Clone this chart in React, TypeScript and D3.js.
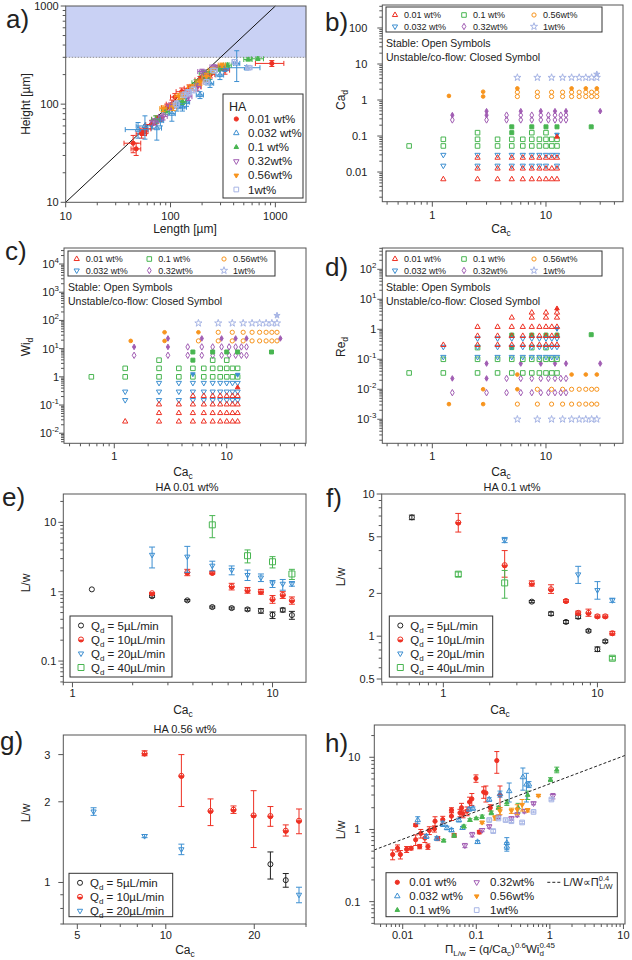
import * as d3 from "d3";
import React from "react";

const FONT = "'Liberation Sans', Arial, Helvetica, sans-serif";
const RED = "#ee3124";
const BLUE = "#3d8fd1";
const GREEN = "#48b551";
const PURPLE = "#a15db3";
const ORANGE = "#f7941d";
const LAV = "#a7b5e5";
const BLACK = "#222222";
const AXIS = "#555555";

const HA_LABELS = ["0.01 wt%", "0.032 wt%", "0.1 wt%", "0.32wt%", "0.56wt%", "1wt%"];
const FLOWS = ["5", "10", "20", "40"];

// a) Height vs Length: [L, H, dL, dH]
const aHA001 = [
  [44, 40, 8, 8], [47, 35, 5, 5], [53, 50, 6, 5], [56, 53, 5, 5], [58, 56, 7, 6],
  [66, 62, 8, 6], [74, 70, 8, 6], [80, 72, 6, 5], [92, 92, 10, 8], [103, 100, 12, 10],
  [110, 118, 10, 10], [128, 134, 15, 12], [150, 145, 15, 12], [178, 150, 18, 14],
  [191, 176, 20, 15], [215, 185, 22, 15], [240, 200, 25, 15], [300, 235, 30, 15],
  [331, 222, 35, 20], [925, 260, 280, 18],
];
const aHA0032 = [
  [49, 55, 12, 10], [57, 60, 10, 16], [74, 57, 8, 14], [80, 68, 6, 8], [103, 80, 8, 13],
  [115, 95, 8, 10], [123, 100, 10, 8], [130, 93, 12, 8], [142, 105, 10, 10],
  [191, 124, 15, 10], [238, 163, 20, 15], [296, 198, 25, 20], [330, 230, 30, 15],
  [428, 260, 30, 90], [533, 235, 180, 12],
];
const aHA01 = [
  [72, 70, 6, 6], [90, 85, 8, 6], [130, 107, 10, 8], [175, 165, 15, 12], [206, 206, 18, 15],
  [220, 185, 20, 12], [240, 215, 20, 12], [286, 232, 25, 15], [350, 250, 30, 12],
  [550, 285, 50, 10], [680, 290, 90, 12],
];
const aHA032 = [
  [70, 66, 6, 5], [85, 75, 8, 6], [100, 95, 8, 8], [148, 119, 12, 10], [178, 151, 15, 12],
  [200, 215, 18, 12], [220, 192, 20, 14], [260, 240, 22, 12],
];
const aHA056 = [
  [85, 90, 6, 6], [106, 94, 8, 8], [120, 120, 10, 8], [130, 123, 12, 10], [159, 149, 14, 10],
  [191, 168, 16, 12], [220, 192, 20, 14], [253, 222, 25, 15], [310, 250, 25, 12],
];
const aHA1 = [
  [114, 100, 8, 8], [136, 125, 10, 8], [148, 131, 10, 10], [165, 140, 12, 10],
  [220, 168, 15, 10], [260, 220, 20, 12], [410, 270, 25, 15], [560, 235, 40, 10],
];
const aDiagX = [10, 1000];
const aDiagY = [10, 1000];
const aBand = [300, 1000];

// b) Ca_d vs Ca_c: [Ca_c, open values, closed values]
const bRed = [
  [1.25, [0.0063]], [2.5, [0.0063, 0.0125, 0.025]], [3.75, [0.0063, 0.0125, 0.025]],
  [5, [0.0063, 0.0125, 0.025]], [6.25, [0.0063, 0.0125, 0.025]], [7.5, [0.0063, 0.0125, 0.025]],
  [8.75, [0.0063, 0.0125, 0.025]], [10, [0.0063, 0.0125, 0.025]], [11.25, [0.0063, 0.0125, 0.025]],
  [12.5, [0.0063, 0.0125, 0.025], [0.095]],
];
const bBlue = [
  [1.25, [0.015, 0.03]], [2.5, [0.015, 0.03]], [3.75, [0.015, 0.03]], [5, [0.015, 0.03]],
  [6.25, [0.015, 0.03]], [7.5, [0.015, 0.03]], [8.75, [0.015, 0.03]], [10, [0.015, 0.03]],
  [11.25, [0.03]], [12.5, [0.015, 0.03], [0.11]],
];
const bGreen = [
  [0.625, [0.053]], [1.25, [0.053, 0.081]], [2.5, [0.053, 0.081, 0.124]], [3.75, [0.053, 0.081]],
  [5, [0.053, 0.081], [0.124, 0.18]], [6.25, [0.053, 0.081]], [7.5, [0.053, 0.081, 0.124], [0.18]],
  [8.75, [0.053, 0.081]], [10, [0.053, 0.081, 0.124], [0.18]], [11.25, [0.053, 0.081]],
  [12.5, [0.053, 0.081], [0.18]], [25, [], [0.18]],
];
const bPurple = [
  [1.5, [0.28], [0.38]], [3, [0.28], [0.38, 0.49]], [4.5, [0.28, 0.38]], [6, [0.28, 0.38], [0.49]],
  [7.5, [0.28, 0.38]], [9, [0.28, 0.38], [0.49]], [10.5, [0.28, 0.38]], [12, [0.28, 0.38], [0.49]],
  [13.5, [0.28, 0.38]], [15, [0.28, 0.38], [0.49]], [30, [], [0.49]],
];
const bOrange = [
  [1.4, [], [1.3]], [2.8, [], [1.25, 1.7]], [5.6, [1.25, 1.65], [2.1]], [8.4, [1.25, 1.65]],
  [11.2, [1.25, 1.65]], [14, [1.25, 1.65]], [16.8, [1.25, 1.65], [2.1]], [19.6, [1.25, 1.65]],
  [22.4, [1.25, 1.65], [2.1]], [25.2, [1.25, 1.65]], [28, [1.25, 1.65], [2.1]],
];
const bStar = [
  [5.6, [4.2]], [8.4, [4.2]], [11.2, [4.2]], [14, [4.2]], [16.8, [4.2]], [19.6, [4.2]],
  [22.4, [4.2]], [25.2, [4.2]], [28, [4.2], [5.2]],
];

// c) Wi_d vs Ca_c
const cRed = [
  [1.25, [0.026]], [2.5, [0.026, 0.052, 0.105]], [3.75, [0.026, 0.052, 0.105]],
  [5, [0.026, 0.052, 0.105, 0.21]], [6.25, [0.026, 0.052, 0.105, 0.21]], [7.5, [0.026, 0.052, 0.105, 0.21]],
  [8.75, [0.026, 0.052, 0.105, 0.21]], [10, [0.026, 0.052, 0.105, 0.21]], [11.25, [0.026, 0.052, 0.105, 0.21]],
  [12.5, [0.026, 0.052, 0.105, 0.21], [0.42]],
];
const cBlue = [
  [1.25, [0.15, 0.3]], [2.5, [0.15, 0.3, 0.61]], [3.75, [0.15, 0.3, 0.61]], [5, [0.15, 0.3, 0.61], [1.25]],
  [6.25, [0.15, 0.3, 0.61]], [7.5, [0.15, 0.3, 0.61]], [8.75, [0.15, 0.3, 0.61]], [10, [0.15, 0.3, 0.61]],
  [11.25, [0.15, 0.3, 0.61]], [12.5, [0.15, 0.3, 0.61], [1.2]],
];
const cGreen = [
  [0.625, [1.0]], [1.25, [1.0, 2.0]], [2.5, [1.0, 2.0, 3.9]], [3.75, [1.0, 2.0]],
  [5, [1.0, 2.0], [3.9, 7.6]], [6.25, [1.0, 2.0]], [7.5, [1.0, 2.0, 3.9], [7.6]], [8.75, [1.0, 2.0]],
  [10, [1.0, 2.0, 3.9], [7.6]], [11.25, [1.0, 2.0]], [12.5, [1.0, 2.0], [7.6]], [25, [], [7.6]],
];
const cPurple = [
  [1.5, [5.8], [11.5]], [3, [5.8], [11.5, 23]], [4.5, [5.8, 11.5]], [6, [5.8, 11.5], [23]],
  [7.5, [5.8, 11.5]], [9, [5.8, 11.5], [23]], [10.5, [5.8, 11.5]], [12, [5.8, 11.5], [23]],
  [13.5, [5.8, 11.5]], [15, [5.8, 11.5], [23]], [30, [], [23]],
];
const cOrange = [
  [1.4, [], [18.8]], [2.8, [], [18.8, 38]], [5.6, [18.8], [38]], [8.4, [18.8, 38]],
  [11.2, [18.8, 38]], [14, [18.8, 38]], [16.8, [18.8, 38]], [19.6, [18.8, 38]],
  [22.4, [18.8, 38]], [25.2, [18.8, 38]], [28, [18.8, 38]],
];
const cStar = [
  [5.6, [80]], [8.4, [80]], [11.2, [80]], [14, [80]], [16.8, [80]], [19.6, [80]],
  [22.4, [80]], [25.2, [80]], [28, [80], [150]],
];

// d) Re_d vs Ca_c
const dRed = [
  [1.25, [0.3]], [2.5, [0.3, 0.6, 1.2]], [3.75, [0.3, 0.6, 1.2]], [5, [0.3, 0.6, 1.2, 2.45]],
  [6.25, [0.3, 0.6, 1.2]], [7.5, [0.3, 0.6, 1.2, 2.45, 3.6]], [8.75, [0.3, 0.6, 1.2]],
  [10, [0.3, 0.6, 1.2, 2.45, 3.6]], [11.25, [0.3, 0.6, 1.2]], [12.5, [0.3, 0.6, 1.2, 2.45, 3.6], [4.9]],
];
const dBlue = [
  [1.25, [0.12, 0.26]], [2.5, [0.12, 0.26, 0.5]], [3.75, [0.12, 0.26, 0.5]], [5, [0.12, 0.26, 0.5]],
  [6.25, [0.12, 0.26, 0.5]], [7.5, [0.12, 0.26, 0.5]], [8.75, [0.12, 0.26, 0.5]], [10, [0.12, 0.26, 0.5]],
  [11.25, [0.12, 0.26, 0.5]], [12.5, [0.12, 0.26, 0.5], [1.05]],
];
const dGreen = [
  [0.625, [0.035]], [1.25, [0.035, 0.1]], [2.5, [0.035, 0.1, 0.245]], [3.75, [0.035, 0.1]],
  [5, [0.035, 0.1], [0.245, 0.64]], [6.25, [0.035, 0.1]], [7.5, [0.035, 0.1, 0.245], [0.64]],
  [8.75, [0.035, 0.1]], [10, [0.035, 0.1, 0.245], [0.64]], [11.25, [0.035, 0.1]],
  [12.5, [0.035, 0.1], [0.64]], [25, [], [0.66]],
];
const dPurple = [
  [1.5, [0.0077], [0.023]], [3, [0.0077], [0.023, 0.072]], [4.5, [0.0077, 0.023]],
  [6, [0.0077, 0.023], [0.072]], [7.5, [0.0077, 0.023]], [9, [0.0077, 0.023], [0.072]],
  [10.5, [0.0077, 0.023]], [12, [0.0077, 0.023], [0.072]], [13.5, [0.0077, 0.023]],
  [15, [0.0077, 0.023], [0.072]], [30, [], [0.072]],
];
const dOrange = [
  [1.4, [], [0.0032]], [2.8, [], [0.0032, 0.01]], [5.6, [0.0032], [0.01, 0.031]], [8.4, [0.0032, 0.01]],
  [11.2, [0.0032, 0.01]], [14, [0.0032, 0.01]], [16.8, [0.0032, 0.01], [0.031]], [19.6, [0.0032, 0.01]],
  [22.4, [0.0032, 0.01], [0.031]], [25.2, [0.0032, 0.01]], [28, [0.0032, 0.01], [0.031]],
];
const dStar = [
  [5.6, [0.001]], [8.4, [0.001]], [11.2, [0.001]], [14, [0.001]], [16.8, [0.001]], [19.6, [0.001]],
  [22.4, [0.001]], [25.2, [0.001]], [28, [0.001]],
];

// e-g) L/w vs Ca_c: [Ca_c, L/w, low, high]
const eQ5 = [
  [1.25, 1.08, 1.08, 1.08], [2.5, 0.86, 0.83, 0.89], [3.75, 0.75, 0.73, 0.77], [5, 0.6, 0.58, 0.62],
  [6.25, 0.58, 0.56, 0.6], [7.5, 0.556, 0.53, 0.58], [8.75, 0.53, 0.49, 0.57], [10, 0.465, 0.41, 0.51],
  [11.25, 0.545, 0.51, 0.58], [12.5, 0.46, 0.4, 0.52],
];
const eQ10 = [
  [2.5, 0.95, 0.93, 0.97], [3.75, 1.9, 1.7, 2.1], [5, 1.87, 1.8, 1.95], [6.25, 1.19, 1.06, 1.32],
  [7.5, 1.05, 0.95, 1.15], [8.75, 1.0, 0.92, 1.08], [10, 0.78, 0.68, 0.88], [11.25, 0.9, 0.8, 1.0],
  [12.5, 0.75, 0.66, 0.84],
];
const eQ20 = [
  [2.5, 3.4, 2.2, 4.4], [3.75, 3.2, 1.9, 4.5], [5, 2.37, 2.0, 2.75], [6.25, 2.06, 1.75, 2.35],
  [7.5, 1.74, 1.45, 2.05], [8.75, 1.6, 1.4, 1.8], [10, 1.32, 1.15, 1.45], [11.25, 1.3, 1.05, 1.5],
  [12.5, 1.3, 1.2, 1.4],
];
const eQ40 = [[5, 9.2, 6, 12.5], [7.5, 3.3, 2.6, 4.0], [10, 2.7, 2.2, 3.2], [12.5, 1.8, 1.5, 2.1]];

const fQ5 = [
  [0.625, 6.85, 6.6, 7.1], [3.75, 1.75, 1.72, 1.78], [5, 1.44, 1.4, 1.48], [6.25, 1.26, 1.23, 1.29],
  [7.5, 1.37, 1.33, 1.41], [8.75, 1.09, 1.07, 1.11], [10, 0.81, 0.78, 0.84], [11.25, 0.92, 0.9, 0.94],
];
const fQ10 = [
  [1.25, 6.3, 5.4, 7.3], [2.5, 3.16, 2.6, 4.0], [3.75, 2.35, 2.25, 2.45], [5, 2.14, 2.0, 2.3],
  [6.25, 1.77, 1.73, 1.81], [7.5, 1.46, 1.42, 1.5], [8.75, 1.46, 1.38, 1.55], [10, 1.38, 1.35, 1.41],
  [11.25, 1.38, 1.35, 1.41], [12.5, 1.05, 1.02, 1.08],
];
const fQ20 = [[2.5, 4.74, 4.55, 4.95], [7.5, 2.72, 2.35, 3.1], [10, 2.11, 1.82, 2.42], [12.5, 1.79, 1.73, 1.85]];
const fQ40 = [[1.25, 2.73, 2.63, 2.83], [2.5, 2.37, 1.85, 2.9], [12.5, 0.7, 0.68, 0.72]];

const gQ5 = [[22.7, 1.17, 1.03, 1.3], [25.6, 1.02, 0.96, 1.08]];
const gQ10 = [
  [8.47, 3.03, 2.97, 3.1], [11.3, 2.5, 1.92, 3.0], [14.2, 1.85, 1.63, 2.05], [17.0, 1.87, 1.81, 1.93],
  [19.9, 1.78, 1.35, 2.2], [22.7, 1.77, 1.62, 1.92], [25.6, 1.56, 1.49, 1.64], [28.4, 1.7, 1.52, 1.88],
];
const gQ20 = [[5.68, 1.84, 1.78, 1.9], [8.47, 1.49, 1.47, 1.51], [11.3, 1.33, 1.27, 1.39], [28.4, 0.9, 0.84, 0.96]];

// h) L/w vs Pi_L/w: [Pi, L/w, err]
const hHA001 = [
  [0.0073, 0.45, 0.07], [0.0085, 0.55, 0.06], [0.0093, 0.45, 0.06], [0.0113, 0.53, 0.05],
  [0.013, 0.55, 0.03], [0.015, 0.72, 0.12], [0.015, 1.15, 0.05], [0.0176, 0.88, 0.12],
  [0.017, 0.58, 0.04], [0.02, 0.76, 0.1], [0.022, 0.58, 0.05], [0.023, 0.97, 0.12],
  [0.0275, 1.3, 0.2], [0.027, 1.02, 0.1], [0.03, 0.75, 0.05], [0.035, 1.37, 0.15],
  [0.046, 1.53, 0.2], [0.046, 1.85, 0.15], [0.05, 0.83, 0.05], [0.06, 1.7, 0.2],
  [0.063, 2.0, 0.3], [0.066, 1.65, 0.2], [0.075, 1.8, 0.25], [0.081, 2.4, 0.4],
  [0.087, 2.65, 0.5], [0.099, 5.1, 0.6], [0.11, 0.92, 0.05], [0.126, 3.3, 0.6],
  [0.135, 3.2, 0.8], [0.155, 2.0, 0.2], [0.19, 9.0, 3.0], [0.21, 3.0, 1.0],
];
const hHA0032 = [
  [0.016, 1.35, 0.15], [0.021, 0.8, 0.05], [0.029, 0.75, 0.04], [0.035, 1.2, 0.1],
  [0.04, 1.05, 0.06], [0.046, 0.98, 0.05], [0.058, 1.35, 0.08], [0.065, 1.05, 0.05],
  [0.08, 1.9, 0.1], [0.09, 1.95, 0.1], [0.104, 0.67, 0.03], [0.15, 2.6, 0.15],
  [0.21, 3.1, 0.3], [0.26, 0.65, 0.12], [0.26, 0.58, 0.08], [0.28, 3.4, 1.0],
  [0.43, 5.3, 1.8], [0.48, 4.2, 1.8], [0.52, 4.2, 0.4],
];
const hHA01 = [
  [0.036, 0.7, 0.03], [0.05, 0.82, 0.04], [0.068, 1.1, 0.05], [0.082, 1.35, 0.06],
  [0.1, 1.42, 0.05], [0.12, 1.5, 0.08], [0.16, 1.7, 0.1], [0.2, 2.0, 0.1], [0.26, 2.35, 0.2],
  [0.37, 2.0, 0.3], [0.5, 3.0, 0.4], [1.02, 4.9, 0.3], [1.24, 6.7, 0.6],
];
const hHA032 = [
  [0.07, 0.6, 0.04], [0.088, 0.85, 0.06], [0.12, 0.98, 0.05], [0.15, 1.1, 0.06], [0.2, 1.5, 0.08],
  [0.3, 1.42, 0.08], [0.36, 1.6, 0.1], [0.45, 1.8, 0.1], [0.6, 2.3, 0.1], [1.1, 2.9, 0.25],
];
const hHA056 = [
  [0.12, 1.25, 0.05], [0.18, 1.45, 0.1], [0.21, 1.8, 0.2], [0.3, 1.82, 0.15],
  [0.36, 1.9, 0.3], [0.42, 2.2, 0.4], [0.5, 1.85, 0.1], [0.7, 2.95, 0.1],
];
const hHA1 = [
  [0.15, 1.35, 0.05], [0.17, 0.95, 0.05], [0.2, 1.42, 0.05], [0.25, 1.35, 0.05],
  [0.3, 1.3, 0.05], [0.42, 1.25, 0.05], [0.6, 1.75, 0.05], [1.05, 2.6, 0.1],
];
const hFitX = [0.0041, 10.5];
const hFitY = [0.52, 10.6];

type Scale = d3.ScaleLogarithmic<number, number>;
type Style = { color: string; shape: string; size: number; filled?: boolean };

const scatterStyles: Style[] = [
  { color: RED, shape: "circle", size: 14, filled: true },
  { color: BLUE, shape: "tri", size: 13 },
  { color: GREEN, shape: "tri", size: 9, filled: true },
  { color: PURPLE, shape: "down", size: 13 },
  { color: ORANGE, shape: "down", size: 9, filled: true },
  { color: LAV, shape: "square", size: 22 },
];
const gridStyles: Style[] = [
  { color: RED, shape: "tri", size: 12 },
  { color: BLUE, shape: "down", size: 12 },
  { color: GREEN, shape: "square", size: 21 },
  { color: PURPLE, shape: "diamond", size: 12 },
  { color: ORANGE, shape: "circle", size: 14 },
  { color: LAV, shape: "star", size: 16 },
];
const flowStyles: Style[] = [
  { color: BLACK, shape: "circle", size: 20 },
  { color: RED, shape: "half", size: 20 },
  { color: BLUE, shape: "down", size: 12 },
  { color: GREEN, shape: "square", size: 36 },
];

const SHAPES: Record<string, d3.SymbolType> = {
  circle: d3.symbolCircle,
  square: d3.symbolSquare,
  tri: d3.symbolTriangle,
  down: d3.symbolTriangle,
  diamond: d3.symbolDiamond,
  star: d3.symbolStar,
};

function Mark({ cx, cy, st, filled, size }: { cx: number; cy: number; st: Style; filled?: boolean; size?: number }) {
  const s = size ?? st.size;
  const fill = filled ?? st.filled;
  if (st.shape === "half") {
    const r = Math.sqrt(s / Math.PI);
    return (
      <g transform={`translate(${cx},${cy})`}>
        <path d={`M${-r},0A${r},${r} 0 0 0 ${r},0Z`} fill={st.color} />
        <circle r={r} fill="none" stroke={st.color} strokeWidth={1} />
      </g>
    );
  }
  const d = d3.symbol(SHAPES[st.shape], s)() ?? "";
  return (
    <path
      d={d}
      transform={`translate(${cx},${cy})${st.shape === "down" ? " rotate(180)" : ""}`}
      fill={fill ? st.color : "none"}
      stroke={st.color}
      strokeWidth={1}
    />
  );
}

function minorTicks(d: number[], majors: number[]) {
  const out: number[] = [];
  for (let e = Math.floor(Math.log10(d[0])); e <= Math.ceil(Math.log10(d[1])); e++) {
    for (let k = 1; k < 10; k++) {
      const v = k * Math.pow(10, e);
      if (v >= d[0] * 0.999 && v <= d[1] * 1.001 && !majors.some((m) => Math.abs(m - v) / v < 1e-6)) out.push(v);
    }
  }
  return out;
}

function Lbl({ s }: { s: string }) {
  const [b, e] = s.split("^");
  return (
    <>
      {b}
      {e && (
        <tspan dy={-5} fontSize="0.72em">
          {e}
        </tspan>
      )}
    </>
  );
}

interface PanelProps {
  box: number[];
  xd: number[];
  yd: number[];
  xt: [number, string][];
  yt: [number, string][];
  xGap?: number;
  yGap?: number;
  children: (x: Scale, y: Scale) => React.ReactNode;
}

function Panel({ box, xd, yd, xt, yt, xGap = 17, yGap = 7, children }: PanelProps) {
  const [l, t, r, b] = box;
  const x = d3.scaleLog().domain(xd).range([l, r]);
  const y = d3.scaleLog().domain(yd).range([b, t]);
  const xm = minorTicks(xd, xt.map((d) => d[0]));
  const ym = minorTicks(yd, yt.map((d) => d[0]));
  return (
    <g>
      {children(x, y)}
      <rect x={l} y={t} width={r - l} height={b - t} fill="none" stroke={AXIS} strokeWidth={1} />
      {xm.map((v, i) => (
        <line key={`xm${i}`} x1={x(v)} x2={x(v)} y1={b} y2={b + 3} stroke={AXIS} />
      ))}
      {ym.map((v, i) => (
        <line key={`ym${i}`} x1={l - 3} x2={l} y1={y(v)} y2={y(v)} stroke={AXIS} />
      ))}
      {xt.map(([v, s], i) => (
        <g key={`xt${i}`}>
          <line x1={x(v)} x2={x(v)} y1={b} y2={b + 5} stroke={AXIS} />
          <text x={x(v)} y={b + xGap} textAnchor="middle" fontSize={11}>
            <Lbl s={s} />
          </text>
        </g>
      ))}
      {yt.map(([v, s], i) => (
        <g key={`yt${i}`}>
          <line x1={l - 5} x2={l} y1={y(v)} y2={y(v)} stroke={AXIS} />
          <text x={l - yGap} y={y(v) + 4} textAnchor="end" fontSize={11}>
            <Lbl s={s} />
          </text>
        </g>
      ))}
    </g>
  );
}

function GridSeries({ rows, x, y, st }: { rows: any[]; x: Scale; y: Scale; st: Style }) {
  return (
    <g>
      {rows.map(([c, open, closed = []]: [number, number[], number[]], i: number) => (
        <g key={i}>
          {open.map((v, j) => (
            <Mark key={`o${j}`} cx={x(c)} cy={y(v)} st={st} />
          ))}
          {closed.map((v, j) => (
            <Mark key={`c${j}`} cx={x(c)} cy={y(v)} st={st} filled size={st.size * 0.75} />
          ))}
        </g>
      ))}
    </g>
  );
}

function VErr({ pts, x, y, st, cap = 3 }: { pts: number[][]; x: Scale; y: Scale; st: Style; cap?: number }) {
  return (
    <g stroke={st.color} strokeWidth={1}>
      {pts.map(([c, v, lo, hi], i) => {
        const px = x(c);
        return (
          <g key={i}>
            {hi > lo && (
              <>
                <line x1={px} x2={px} y1={y(lo)} y2={y(hi)} />
                <line x1={px - cap} x2={px + cap} y1={y(lo)} y2={y(lo)} />
                <line x1={px - cap} x2={px + cap} y1={y(hi)} y2={y(hi)} />
              </>
            )}
            <Mark cx={px} cy={y(v)} st={st} />
          </g>
        );
      })}
    </g>
  );
}

function XYErr({ pts, x, y, st }: { pts: number[][]; x: Scale; y: Scale; st: Style }) {
  const cap = 2.5;
  return (
    <g stroke={st.color} strokeWidth={1}>
      {pts.map(([L, H, dL, dH], i) => {
        const px = x(L);
        const py = y(H);
        const x0 = x(Math.max(L - dL, 1)), x1 = x(L + dL);
        const y0 = y(Math.max(H - dH, 1)), y1 = y(H + dH);
        return (
          <g key={i}>
            <line x1={x0} x2={x1} y1={py} y2={py} />
            <line x1={x0} x2={x0} y1={py - cap} y2={py + cap} />
            <line x1={x1} x2={x1} y1={py - cap} y2={py + cap} />
            <line x1={px} x2={px} y1={y0} y2={y1} />
            <line x1={px - cap} x2={px + cap} y1={y0} y2={y0} />
            <line x1={px - cap} x2={px + cap} y1={y1} y2={y1} />
            <Mark cx={px} cy={py} st={st} />
          </g>
        );
      })}
    </g>
  );
}

function GridLegend({ x0, y0, w, cols }: { x0: number; y0: number; w: number; cols: number[] }) {
  return (
    <g fontSize={9}>
      <rect x={x0} y={y0} width={w} height={25} fill="#fff" stroke="#333" />
      {HA_LABELS.map((s, i) => {
        const cx = x0 + cols[Math.floor(i / 2)];
        const cy = y0 + 8 + (i % 2) * 11.5;
        return (
          <g key={i}>
            <Mark cx={cx} cy={cy} st={gridStyles[i]} />
            <text x={cx + 9} y={cy + 3.2}>
              {s}
            </text>
          </g>
        );
      })}
      <text x={x0} y={y0 + 40} fontSize={10.5}>
        Stable: Open Symbols
      </text>
      <text x={x0} y={y0 + 54} fontSize={10.5}>
        Unstable/co-flow: Closed Symbol
      </text>
    </g>
  );
}

function FlowLegend({ x0, y0, n, w, h }: { x0: number; y0: number; n: number; w: number; h: number }) {
  return (
    <g fontSize={11.5}>
      <rect x={x0} y={y0} width={w} height={h} fill="#fff" stroke="#333" />
      {FLOWS.slice(0, n).map((q, i) => {
        const cy = y0 + 9.5 + i * 14;
        return (
          <g key={i}>
            <Mark cx={x0 + 11} cy={cy} st={flowStyles[i]} />
            <text x={x0 + 21} y={cy + 4}>
              Q<tspan dy={3} fontSize={8}>d</tspan>
              <tspan dy={-3}> = {q}µL/min</tspan>
            </text>
          </g>
        );
      })}
    </g>
  );
}

function YTitle({ x, y, children }: { x: number; y: number; children: React.ReactNode }) {
  return (
    <text transform={`translate(${x},${y}) rotate(-90)`} textAnchor="middle" fontSize={12}>
      {children}
    </text>
  );
}

function CaC({ x, y }: { x: number; y: number }) {
  return (
    <text x={x} y={y} textAnchor="middle" fontSize={12}>
      Ca<tspan dy={3} fontSize={8.5}>c</tspan>
    </text>
  );
}

const caTicks: [number, string][] = [[1, "1"], [10, "10"]];

export default function App() {
  const aSeries = [aHA001, aHA0032, aHA01, aHA032, aHA056, aHA1];
  const hSeries = [hHA001, hHA0032, hHA01, hHA032, hHA056, hHA1];
  const bSeries = [bOrange, bPurple, bGreen, bStar, bBlue, bRed];
  const cSeries = [cOrange, cPurple, cGreen, cStar, cBlue, cRed];
  const dSeries = [dOrange, dPurple, dGreen, dStar, dBlue, dRed];
  const gridOrder = [4, 3, 2, 5, 1, 0];

  return (
    <svg
      width={632}
      height={960}
      style={{ position: "absolute", left: 0, top: 0, background: "#fff" }}
      fontFamily={FONT}
      fill="#222"
    >
      {/* a */}
      <Panel
        box={[65.7, 6, 306, 202.3]}
        xd={[10, 1960]}
        yd={[10, 1000]}
        xt={[[10, "10"], [100, "100"], [1000, "1000"]]}
        yt={[[10, "10"], [100, "100"], [1000, "1000"]]}
        xGap={18}
      >
        {(x, y) => (
          <g>
            <rect x={x(10)} y={y(aBand[1])} width={x(1960) - x(10)} height={y(aBand[0]) - y(aBand[1])} fill="#c9d1f4" />
            <line x1={x(10)} x2={x(1960)} y1={y(aBand[0])} y2={y(aBand[0])} stroke="#777" strokeDasharray="1.5,1.5" strokeWidth={0.8} />
            <line x1={x(aDiagX[0])} y1={y(aDiagY[0])} x2={x(aDiagX[1])} y2={y(aDiagY[1])} stroke="#111" strokeWidth={1} />
            {aSeries.map((pts, i) => (
              <XYErr key={i} pts={pts} x={x} y={y} st={scatterStyles[i]} />
            ))}
          </g>
        )}
      </Panel>
      <g fontSize={11.5}>
        <rect x={223} y={94} width={80} height={104} fill="#fff" stroke="#333" />
        <text x={229} y={111} fontSize={12.5}>
          HA
        </text>
        {HA_LABELS.map((s, i) => {
          const cy = 119 + i * 14.1;
          return (
            <g key={i}>
              <Mark cx={236.3} cy={cy} st={scatterStyles[i]} />
              <text x={248} y={cy + 4}>
                {s}
              </text>
            </g>
          );
        })}
      </g>
      <YTitle x={30} y={104}>Height [µm]</YTitle>
      <text x={185} y={233} textAnchor="middle" fontSize={12}>
        Length [µm]
      </text>

      {/* b */}
      <Panel
        box={[382.3, 5, 623, 201.7]}
        xd={[0.363, 47.6]}
        yd={[0.0015, 435]}
        xt={caTicks}
        yt={[[0.01, "0.01"], [0.1, "0.1"], [1, "1"], [10, "10"], [100, "100"]]}
        yGap={15}
      >
        {(x, y) => (
          <g>
            {bSeries.map((rows, i) => (
              <GridSeries key={i} rows={rows} x={x} y={y} st={gridStyles[gridOrder[i]]} />
            ))}
          </g>
        )}
      </Panel>
      <GridLegend x0={386} y0={7} w={216} cols={[9, 78, 148]} />
      <YTitle x={345} y={100}>
        Ca<tspan dy={3} fontSize={8.5}>d</tspan>
      </YTitle>
      <CaC x={501} y={233} />

      {/* c */}
      <Panel
        box={[64, 248, 306, 443.3]}
        xd={[0.357, 50.7]}
        yd={[0.0044, 37000]}
        xt={caTicks}
        yt={[[0.01, "10^-2"], [0.1, "10^-1"], [1, "1"], [10, "10^1"], [100, "10^2"], [1000, "10^3"], [10000, "10^4"]]}
        yGap={5}
      >
        {(x, y) => (
          <g>
            {cSeries.map((rows, i) => (
              <GridSeries key={i} rows={rows} x={x} y={y} st={gridStyles[gridOrder[i]]} />
            ))}
          </g>
        )}
      </Panel>
      <GridLegend x0={68} y0={251} w={207} cols={[8.7, 81.3, 156]} />
      <YTitle x={30} y={347}>
        Wi<tspan dy={3} fontSize={8.5}>d</tspan>
      </YTitle>
      <CaC x={183} y={476} />

      {/* d */}
      <Panel
        box={[382.3, 248, 623, 443.3]}
        xd={[0.363, 47.6]}
        yd={[0.000158, 513]}
        xt={caTicks}
        yt={[[0.001, "10^-3"], [0.01, "10^-2"], [0.1, "10^-1"], [1, "1"], [10, "10^1"], [100, "10^2"]]}
        yGap={6}
      >
        {(x, y) => (
          <g>
            {dSeries.map((rows, i) => (
              <GridSeries key={i} rows={rows} x={x} y={y} st={gridStyles[gridOrder[i]]} />
            ))}
          </g>
        )}
      </Panel>
      <GridLegend x0={386} y0={251} w={216} cols={[9, 78, 148]} />
      <YTitle x={345} y={347}>
        Re<tspan dy={3} fontSize={8.5}>d</tspan>
      </YTitle>
      <CaC x={501} y={476} />

      {/* e */}
      <text x={187} y={491} textAnchor="middle" fontSize={11}>
        HA 0.01 wt%
      </text>
      <Panel
        box={[63.3, 494, 306, 682.3]}
        xd={[0.9, 14.7]}
        yd={[0.0494, 25.6]}
        xt={caTicks}
        yt={[[0.1, "0.1"], [1, "1"], [10, "10"]]}
        xGap={15}
      >
        {(x, y) => (
          <g>
            {[eQ5, eQ10, eQ20, eQ40].map((pts, i) => (
              <VErr key={i} pts={pts} x={x} y={y} st={flowStyles[i]} />
            ))}
          </g>
        )}
      </Panel>
      <FlowLegend x0={70} y0={616} n={4} w={102} h={61} />
      <YTitle x={30} y={583}>L/w</YTitle>
      <CaC x={183} y={714} />

      {/* f */}
      <text x={512} y={491} textAnchor="middle" fontSize={11}>
        HA 0.1 wt%
      </text>
      <Panel
        box={[381.7, 494, 625, 682.3]}
        xd={[0.398, 15.1]}
        yd={[0.474, 10]}
        xt={caTicks}
        yt={[[0.5, "0.5"], [1, "1"], [2, "2"], [5, "5"], [10, "10"]]}
        xGap={15}
      >
        {(x, y) => (
          <g>
            {[fQ5, fQ10, fQ20, fQ40].map((pts, i) => (
              <VErr key={i} pts={pts} x={x} y={y} st={flowStyles[i]} />
            ))}
          </g>
        )}
      </Panel>
      <FlowLegend x0={389.3} y0={616} n={4} w={103.4} h={61} />
      <YTitle x={345} y={577}>L/w</YTitle>
      <CaC x={500} y={714} />

      {/* g */}
      <text x={185} y={733} textAnchor="middle" fontSize={11}>
        HA 0.56 wt%
      </text>
      <Panel
        box={[63.3, 735, 306, 924]}
        xd={[4.48, 30]}
        yd={[0.7, 3.55]}
        xt={[[5, "5"], [10, "10"], [20, "20"]]}
        yt={[[1, "1"], [2, "2"], [3, "3"]]}
        xGap={15}
        yGap={13}
      >
        {(x, y) => (
          <g>
            {[gQ5, gQ10, gQ20].map((pts, i) => (
              <VErr key={i} pts={pts} x={x} y={y} st={flowStyles[i]} />
            ))}
          </g>
        )}
      </Panel>
      <FlowLegend x0={69} y0={873.3} n={3} w={103.7} h={43.4} />
      <YTitle x={30} y={813}>L/w</YTitle>
      <CaC x={185} y={954} />

      {/* h */}
      <Panel
        box={[374.3, 725, 625, 924]}
        xd={[0.00411, 10.5]}
        yd={[0.049, 28]}
        xt={[[0.01, "0.01"], [0.1, "0.1"], [1, "1"], [10, "10"]]}
        yt={[[0.1, "0.1"], [1, "1"], [10, "10"]]}
        xGap={15}
        yGap={14}
      >
        {(x, y) => (
          <g>
            {hSeries.map((pts, i) => (
              <VErr
                key={i}
                pts={pts.map(([p, v, e]) => [p, v, v - e, v + e])}
                x={x}
                y={y}
                st={scatterStyles[i]}
                cap={2.5}
              />
            ))}
            <line
              x1={x(hFitX[0])}
              y1={y(hFitY[0])}
              x2={x(hFitX[1])}
              y2={y(hFitY[1])}
              stroke="#222"
              strokeDasharray="3,2"
              strokeWidth={1}
            />
          </g>
        )}
      </Panel>
      <g fontSize={11.5}>
        <rect x={386} y={872.7} width={231.3} height={44} fill="#fff" stroke="#333" />
        {HA_LABELS.map((s, i) => {
          const col = Math.floor(i / 3);
          const cx = col === 0 ? 397.3 : 476.7;
          const tx = col === 0 ? 409.3 : 490;
          const cy = 882.3 + (i % 3) * 13.9;
          return (
            <g key={i}>
              <Mark cx={cx} cy={cy} st={scatterStyles[i]} />
              <text x={tx} y={cy + 4}>
                {s}
              </text>
            </g>
          );
        })}
        <line x1={547.3} x2={561.7} y1={882.3} y2={882.3} stroke="#222" strokeDasharray="3,2" />
        <text x={563.3} y={886.3} fontSize={11}>
          L/W∝Π<tspan dy={-5} fontSize={7.5}>0.4</tspan>
          <tspan dx={-10} dy={8} fontSize={7.5}>L/W</tspan>
        </text>
      </g>
      <YTitle x={345} y={830}>L/w</YTitle>
      <text x={500} y={953} textAnchor="middle" fontSize={11.5}>
        Π<tspan dy={3} fontSize={8}>L/w</tspan>
        <tspan dy={-3}> = (q/Ca</tspan>
        <tspan dy={3} fontSize={8}>c</tspan>
        <tspan dy={-3}>)</tspan>
        <tspan dy={-5} fontSize={8}>0.6</tspan>
        <tspan dy={5}>Wi</tspan>
        <tspan dy={3} fontSize={8}>d</tspan>
        <tspan dx={-4.5} dy={-8} fontSize={8}>0.45</tspan>
      </text>

      {/* panel letters */}
      <g fontSize={26}>
        <text x={6} y={28}>a)</text>
        <text x={325} y={31}>b)</text>
        <text x={5} y={260}>c)</text>
        <text x={325} y={276}>d)</text>
        <text x={2} y={506}>e)</text>
        <text x={326} y={507}>f)</text>
        <text x={0} y={750}>g)</text>
        <text x={325} y={752}>h)</text>
      </g>
    </svg>
  );
}
